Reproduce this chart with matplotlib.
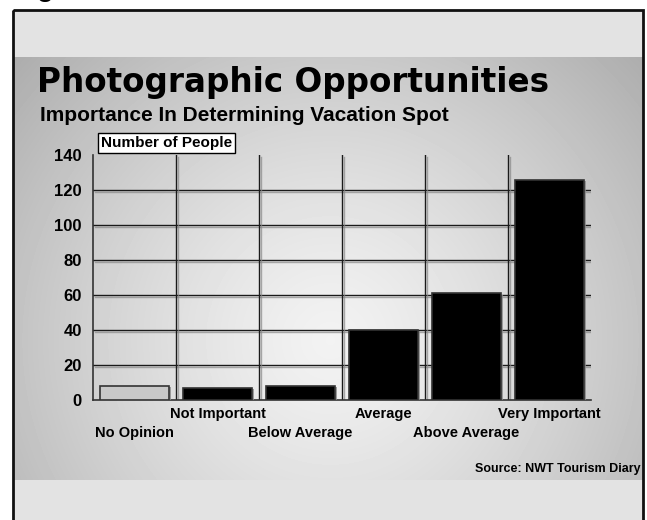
import matplotlib
matplotlib.use("Agg")
import matplotlib.pyplot as plt
import matplotlib.patheffects as pe
from matplotlib.patches import Rectangle
import numpy as np

# Survey results: number of people per importance rating
categories = ["No Opinion", "Not Important", "Below Average",
              "Average", "Above Average", "Very Important"]
people = [8, 7, 8, 40, 61, 126]
bar_colors = ["#c8c8c8", "black", "black", "black", "black", "black"]
y_ticks = [0, 20, 40, 60, 80, 100, 120, 140]

W, H = 647, 520
BOLD = ["Liberation Sans", "DejaVu Sans"]

fig = plt.figure(figsize=(W / 100, H / 100), dpi=100)
fig.patch.set_facecolor("white")

# Background panel in pixel coordinates
bg = fig.add_axes([0, 0, 1, 1])
bg.set_xlim(0, W)
bg.set_ylim(H, 0)
bg.axis("off")

# Radial grey gradient behind the chart
gx, gy = np.meshgrid(np.arange(13, 643), np.arange(57, 480))
d = np.hypot(gx - 330, gy - 340) / 420.0
shade = np.clip(0.95 - 0.27 * d ** 1.3, 0.66, 0.96)
bg.imshow(shade, cmap="gray", vmin=0, vmax=1, extent=[13, 643, 480, 57],
          aspect="auto", zorder=0, interpolation="bilinear")
bg.add_patch(Rectangle((13, 10), 630, 47, facecolor="#e3e3e3", edgecolor="none", zorder=1))
bg.add_patch(Rectangle((13, 480), 630, 50, facecolor="#e3e3e3", edgecolor="none", zorder=1))
bg.add_patch(Rectangle((13, 10), 630, 520, facecolor="none", edgecolor="#111111",
                       linewidth=2, zorder=2))
bg.text(45, -4, "g", fontsize=20, fontweight="bold", family=BOLD, ha="center", va="baseline")

# Titles
bg.text(37, 92, "Photographic Opportunities", fontsize=23.5, fontweight="bold",
        family=["DejaVu Sans"], ha="left", va="baseline", zorder=3)
bg.text(40, 121, "Importance In Determining Vacation Spot", fontsize=15,
        fontweight="bold", family=BOLD, ha="left", va="baseline", zorder=3)
bg.text(641, 472, "Source: NWT Tourism Diary", fontsize=9, fontweight="bold",
        family=BOLD, ha="right", va="baseline", zorder=3)
bg.text(101, 143, "Number of People", fontsize=11, fontweight="bold", family=BOLD,
        ha="left", va="center", zorder=3,
        bbox=dict(boxstyle="square,pad=0.2", facecolor="white", edgecolor="black",
                  linewidth=1))

# Main plot area
ax = fig.add_axes([93 / W, (H - 400) / H, (591 - 93) / W, (400 - 155) / H])
ax.patch.set_alpha(0)
x = np.arange(len(categories))
ax.set_xlim(-0.5, len(categories) - 0.5)
ax.set_ylim(0, 140)

shadow = [pe.SimpleLineShadow(offset=(1.2, -1.2), shadow_color="#888888", alpha=0.7),
          pe.Normal()]
for v in y_ticks[1:-1]:
    ax.axhline(v, color="#1a1a1a", linewidth=1.0, zorder=1, path_effects=shadow)
for b in np.arange(0.5, len(categories) - 1, 1.0):
    ax.axvline(b, color="#1a1a1a", linewidth=1.0, zorder=1, path_effects=shadow)

ax.bar(x, people, width=0.82, color=bar_colors, edgecolor="#333333", linewidth=1.2,
       zorder=3, path_effects=[pe.SimplePatchShadow(offset=(2, -1), shadow_rgbFace="#888888",
                                                    alpha=0.8), pe.Normal()])

for s in ["top", "right"]:
    ax.spines[s].set_visible(False)
for s in ["left", "bottom"]:
    ax.spines[s].set_color("#333333")
    ax.spines[s].set_linewidth(1.2)

ax.set_yticks(y_ticks)
ax.set_yticklabels([str(t) for t in y_ticks], fontsize=12, fontweight="bold", family=BOLD)
ax.tick_params(axis="y", length=0, pad=8)
ax.set_xticks([])

# Staggered category labels
for i, name in enumerate(categories):
    ypix = 437 if i % 2 == 0 else 418
    bg.text(134.5 + 83 * i, ypix, name, fontsize=10.5, fontweight="bold", family=BOLD,
            ha="center", va="baseline", zorder=3)

fig.savefig("out.png", dpi=100, facecolor="white")
